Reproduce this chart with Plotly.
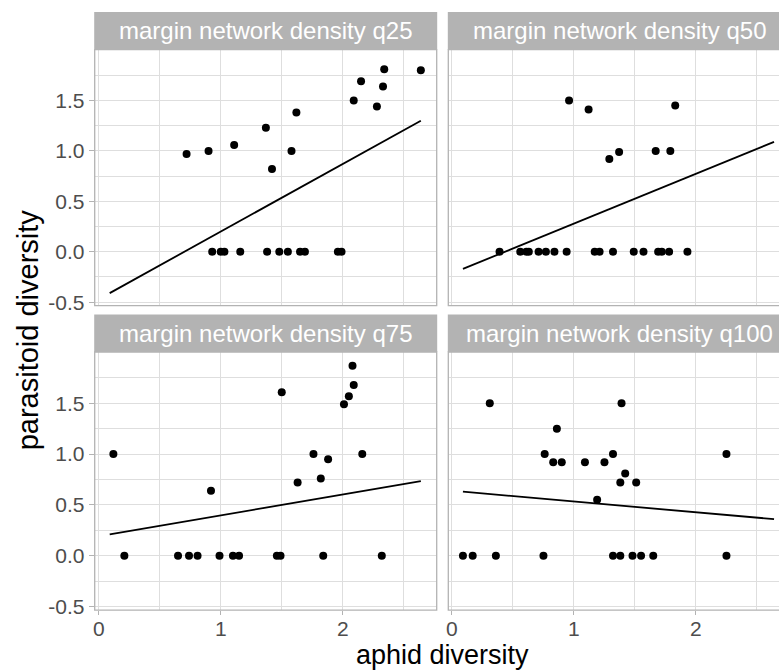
import plotly.graph_objects as go

# ---------------- data ----------------
panel_titles = ["margin network density q25", "margin network density q50",
                "margin network density q75", "margin network density q100"]

q25_x = [0.72, 0.90, 1.11, 1.37, 1.42, 1.58, 1.62, 2.09, 2.15, 2.28, 2.33, 2.34, 2.64,
         0.93, 1.00, 1.03, 1.16, 1.38, 1.48, 1.55, 1.65, 1.69, 1.96, 1.99]
q25_y = [0.97, 1.00, 1.06, 1.23, 0.82, 1.00, 1.38, 1.50, 1.69, 1.44, 1.64, 1.81, 1.80,
         0, 0, 0, 0, 0, 0, 0, 0, 0, 0, 0]

q50_x = [0.96, 1.12, 1.29, 1.37, 1.67, 1.79, 1.83,
         0.39, 0.56, 0.61, 0.63, 0.71, 0.77, 0.84, 0.94, 1.17, 1.21, 1.32, 1.49, 1.57,
         1.69, 1.72, 1.78, 1.93]
q50_y = [1.50, 1.41, 0.92, 0.99, 1.00, 1.00, 1.45,
         0, 0, 0, 0, 0, 0, 0, 0, 0, 0, 0, 0, 0, 0, 0, 0, 0]

q75_x = [0.12, 0.92, 1.50, 1.63, 1.76, 1.82, 1.88, 2.01, 2.05, 2.09, 2.08, 2.16,
         0.21, 0.65, 0.74, 0.81, 0.99, 1.10, 1.15, 1.46, 1.49, 1.84, 2.32]
q75_y = [1.00, 0.64, 1.61, 0.72, 1.00, 0.76, 0.95, 1.49, 1.57, 1.68, 1.87, 1.00,
         0, 0, 0, 0, 0, 0, 0, 0, 0, 0, 0]

q100_x = [0.31, 1.39, 0.86, 0.76, 0.83, 0.90, 1.09, 1.25, 1.32, 1.42, 1.38, 1.51, 1.19, 2.25,
          0.09, 0.17, 0.36, 0.75, 1.32, 1.38, 1.48, 1.55, 1.65, 2.25]
q100_y = [1.50, 1.50, 1.25, 1.00, 0.92, 0.92, 0.92, 0.92, 1.00, 0.81, 0.72, 0.72, 0.55, 1.00,
          0, 0, 0, 0, 0, 0, 0, 0, 0, 0]

fit_x = [0.09, 2.64]
q25_fit = [-0.41, 1.30]
q50_fit = [-0.17, 1.09]
q75_fit = [0.21, 0.735]
q100_fit = [0.63, 0.36]

x_ticks = [0, 1, 2]
y_ticks = [-0.5, 0.0, 0.5, 1.0, 1.5]
y_ticklabels = ["-0.5", "0.0", "0.5", "1.0", "1.5"]

# ---------------- layout geometry (pixels) ----------------
W, H = 779, 671
left_px = (94.7, 436.7)
right_px = (448.3, 790.3)          # extends past the window (clipped like the reference)
top_px = (49.6, 305.7)
bot_px = (352.0, 610.1)
strip_h = 37.5

def px(x):
    return x / W

def py(y):
    return 1 - y / H

FONT = "Liberation Sans, Arial, Helvetica, sans-serif"
STRIP = "#B3B3B3"
GRID = "#DEDEDE"

fig = go.Figure()

panels = [
    (q25_x, q25_y, q25_fit, "x", "y"),
    (q50_x, q50_y, q50_fit, "x2", "y2"),
    (q75_x, q75_y, q75_fit, "x3", "y3"),
    (q100_x, q100_y, q100_fit, "x4", "y4"),
]
for xs, ys, fy, xa, ya in panels:
    fig.add_trace(go.Scatter(x=xs, y=ys, mode="markers", xaxis=xa, yaxis=ya,
                             marker=dict(color="black", size=8), showlegend=False))
    fig.add_trace(go.Scatter(x=fit_x, y=fy, mode="lines", xaxis=xa, yaxis=ya,
                             line=dict(color="black", width=1.8), showlegend=False))

x_left_range = [-0.033, 2.77]
x_right_range = [-0.030, -0.030 + (W - right_px[0]) / 122.0]
y_range = [-0.535, 2.005]

def xaxis(dom, rng, anchor, show):
    return dict(domain=[px(dom[0]), min(1.0, px(dom[1]))], range=rng, anchor=anchor,
                tickvals=x_ticks, showticklabels=show,
                ticks="outside" if show else "", ticklen=4, tickcolor=STRIP, tickwidth=1,
                ticklabelstandoff=-4,
                tickfont=dict(family=FONT, size=21, color="#4D4D4D"),
                showgrid=True, gridcolor=GRID, gridwidth=1, zeroline=False,
                showline=False, automargin=False, fixedrange=True,
                minor=dict(dtick=0.5, tick0=0.5, showgrid=True, gridcolor=GRID, gridwidth=0.6,
                           ticks=""))

def yaxis(dom, anchor, show):
    return dict(domain=[py(dom[1]), py(dom[0])], range=y_range, anchor=anchor,
                tickvals=y_ticks, ticktext=y_ticklabels, showticklabels=show,
                ticks="outside" if show else "", ticklen=5, tickcolor=STRIP, tickwidth=1,
                tickfont=dict(family=FONT, size=21, color="#4D4D4D"),
                showgrid=True, gridcolor=GRID, gridwidth=1, zeroline=False,
                showline=False, automargin=False, fixedrange=True,
                minor=dict(dtick=0.5, tick0=-0.25, showgrid=True, gridcolor=GRID, gridwidth=0.6,
                           ticks=""))

fig.update_layout(
    width=W, height=H,
    margin=dict(l=0, r=0, t=0, b=0),
    paper_bgcolor="white", plot_bgcolor="white",
    template="none",
    showlegend=False,
    xaxis=xaxis(left_px, x_left_range, "y", False),
    yaxis=yaxis(top_px, "x", True),
    xaxis2=xaxis(right_px, x_right_range, "y2", False),
    yaxis2=yaxis(top_px, "x2", False),
    xaxis3=xaxis(left_px, x_left_range, "y3", True),
    yaxis3=yaxis(bot_px, "x3", True),
    xaxis4=xaxis(right_px, x_right_range, "y4", True),
    yaxis4=yaxis(bot_px, "x4", False),
)

shapes = []
annotations = []
for i, (xp, yp) in enumerate([(left_px, top_px), (right_px, top_px),
                              (left_px, bot_px), (right_px, bot_px)]):
    # panel border
    shapes.append(dict(type="rect", xref="paper", yref="paper",
                       x0=px(xp[0]), x1=px(xp[1]), y0=py(yp[1]), y1=py(yp[0]),
                       line=dict(color=STRIP, width=1.3), fillcolor="rgba(0,0,0,0)",
                       layer="above"))
    # strip
    shapes.append(dict(type="rect", xref="paper", yref="paper",
                       x0=px(xp[0] - 0.5), x1=px(xp[1] + 0.5),
                       y0=py(yp[0]), y1=py(yp[0] - strip_h),
                       line=dict(width=0), fillcolor=STRIP, layer="above"))
    annotations.append(dict(text=panel_titles[i], xref="paper", yref="paper",
                            x=px((xp[0] + xp[1]) / 2), y=py(yp[0] - strip_h / 2),
                            xanchor="center", yanchor="middle", showarrow=False,
                            font=dict(family=FONT, size=24, color="white")))

annotations.append(dict(text="aphid diversity", xref="paper", yref="paper",
                        x=px((left_px[0] + right_px[1]) / 2), y=py(654.5),
                        xanchor="center", yanchor="middle", showarrow=False,
                        font=dict(family=FONT, size=27, color="black")))
annotations.append(dict(text="parasitoid diversity", xref="paper", yref="paper",
                        x=px(27.5), y=py((top_px[0] + bot_px[1]) / 2), textangle=-90,
                        xanchor="center", yanchor="middle", showarrow=False,
                        font=dict(family=FONT, size=29, color="black")))

fig.update_layout(shapes=shapes, annotations=annotations)

fig.write_html("out.html")
